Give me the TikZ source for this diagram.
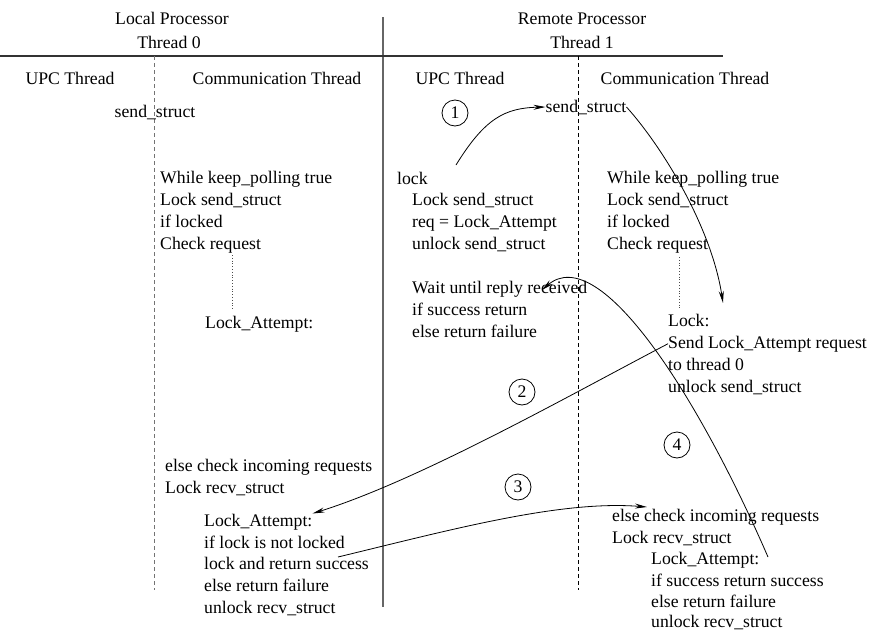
\documentclass[tikz,border=0pt]{standalone}
\usepackage{fontspec}
\setmainfont{Liberation Serif}
\usetikzlibrary{arrows.meta,positioning,calc}

\begin{document}
\begin{tikzpicture}[
    x=1pt, y=-1pt,
    txt/.style={anchor=base west, inner sep=0pt, font=\fontsize{17.7}{21.7}\selectfont},
    head/.style={txt, anchor=base},
    numcirc/.style={circle, draw, line width=0.8pt, minimum size=26pt, inner sep=0pt, font=\fontsize{17.7}{21.7}\selectfont},
    flow/.style={-{Stealth[length=12pt,width=5pt]}, line width=0.8pt},
    divider/.style={line width=1.2pt, black!60},
    lane/.style={line width=1pt, dash pattern=on 4pt off 3pt},
    dotline/.style={line width=0.8pt, dotted, black!70}
]
\useasboundingbox (0,0) rectangle (871,632);

% Frame
\draw[divider] (383,17) -- (383,607);
\draw[divider, black!80] (0,56) -- (723,56);
\draw[lane, black!55] (154,56) -- (154,590);
\draw[lane] (578,56) -- (578,590);

% Headers
\node[head] (locProc) at (172,24) {Local Processor};
\node[head] (locThr) at (169,48) {Thread 0};
\node[head] (remProc) at (582,24) {Remote Processor};
\node[head] (remThr) at (582,48) {Thread 1};
\node[head] (locUpc) at (70,84) {UPC Thread};
\node[head] (locComm) at (277,84) {Communication Thread};
\node[head] (remUpc) at (460,84) {UPC Thread};
\node[head] (remComm) at (685,84) {Communication Thread};

% Local Processor
\node[head] (locSend) at (155,117) {send\_struct};
\node[txt] (locWhile) at (160,183) {While keep\_polling true};
\node[txt] (locLock) at (160,205) {Lock send\_struct};
\node[txt] (locIf) at (160,227) {if locked};
\node[txt] (locCheck) at (160,249) {Check request};
\node[txt] (locAtt) at (205,328) {Lock\_Attempt:};
\node[txt] (locElse) at (165,471) {else check incoming requests};
\node[txt] (locRecv) at (165,493) {Lock recv\_struct};
\node[txt] (locAtt2) at (204,526) {Lock\_Attempt:};
\node[txt] (locNot) at (204,548) {if lock is not locked};
\node[txt] (locSucc) at (204,569) {lock and return success};
\node[txt] (locFail) at (204,591) {else return failure};
\node[txt] (locUnl) at (204,613) {unlock recv\_struct};
\draw[dotline] (232,255) -- (232,310);

% Remote Processor
\node[head] (remSend) at (586,112) {send\_struct};
\node[txt] (remCall) at (397,184) {lock};
\node[txt] (remLock) at (412,205) {Lock send\_struct};
\node[txt] (remReq) at (412,227) {req = Lock\_Attempt};
\node[txt] (remUnl) at (412,249) {unlock send\_struct};
\node[txt] (remWait) at (412,293) {Wait until reply received};
\node[txt] (remIfS) at (412,315) {if success return};
\node[txt] (remElseF) at (412,337) {else return failure};
\node[txt] (remWhile) at (607,183) {While keep\_polling true};
\node[txt] (remLock2) at (607,205) {Lock send\_struct};
\node[txt] (remIf) at (607,227) {if locked};
\node[txt] (remCheck) at (607,249) {Check request};
\draw[dotline] (679,257) -- (679,308);
\node[txt] (remLk) at (668,326) {Lock:};
\node[txt] (remSendReq) at (668,348) {Send Lock\_Attempt request};
\node[txt] (remTo) at (668,370) {to thread 0};
\node[txt] (remUnl2) at (668,392) {unlock send\_struct};
\node[txt] (remElse) at (612,521) {else check incoming requests};
\node[txt] (remRecv) at (612,543) {Lock recv\_struct};
\node[txt] (remAtt) at (651,564) {Lock\_Attempt:};
\node[txt] (remRet) at (651,586) {if success return success};
\node[txt] (remFail) at (651,607) {else return failure};
\node[txt] (remUnl3) at (651,627) {unlock recv\_struct};

% Steps
\node[numcirc] (c1) at (455,113) {1};
\node[numcirc] (c2) at (522,392) {2};
\node[numcirc] (c3) at (518,487) {3};
\node[numcirc] (c4) at (677,445) {4};

\coordinate (a1s) at (456,165);
\coordinate (a2e) at (723,303);
\coordinate (a3s) at (338,557);
\coordinate (a4e) at (647,507);
\coordinate (a5s) at (768,557);
\coordinate (a5e) at (542,290);

\draw[flow] (a1s) .. controls (485,118) and (505,108) .. (remSend.west);
\draw[flow] (remSend.east) .. controls (665,150) and (712,230) .. (a2e);
\draw[flow] (remSendReq.west) .. controls (570,395) and (420,480) .. (locAtt2.north east);
\draw[flow] (a3s) .. controls (450,530) and (560,500) .. (a4e);
\draw[flow] (a5s) .. controls (700,400) and (600,240) .. (a5e);

\end{tikzpicture}
\end{document}
